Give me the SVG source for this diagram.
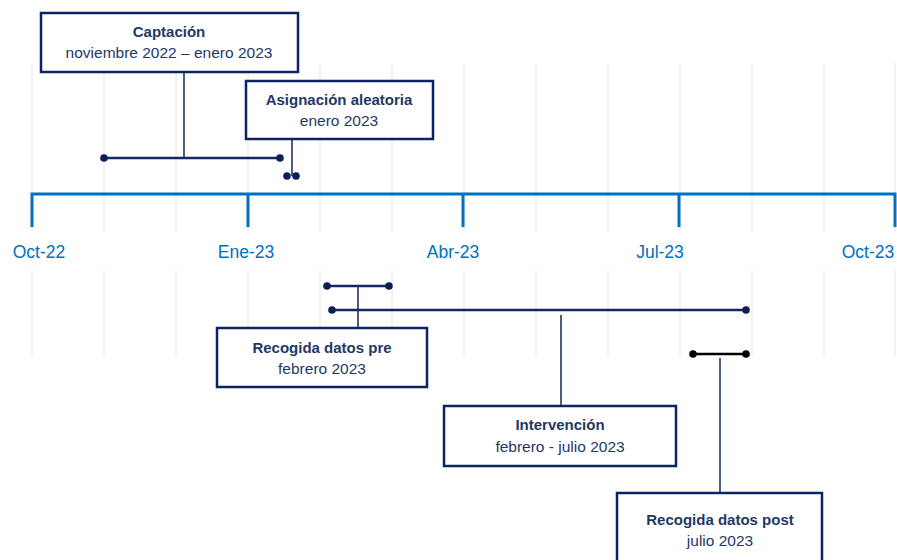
<svg xmlns="http://www.w3.org/2000/svg" width="897" height="560" viewBox="0 0 897 560">
<style>
.grid{stroke:#f2f2f2;stroke-width:2;fill:none}
.axis{stroke:#0070c0;stroke-width:3;fill:none}
.lbl{font-family:"Liberation Sans",Arial,sans-serif;font-size:17.5px;fill:#0070c0;text-anchor:middle}
.box{fill:#fff;stroke:#0c2461;stroke-width:2.5}
.t1{font-family:"Liberation Sans",Arial,sans-serif;font-size:15px;font-weight:bold;fill:#1f3864;text-anchor:middle}
.t2{font-family:"Liberation Sans",Arial,sans-serif;font-size:15.5px;fill:#1f3864;text-anchor:middle}
.bar{stroke:#13295a;stroke-width:2.5;fill:none}
.stem{stroke:#1f3864;stroke-width:1.6;fill:none}
.dot{fill:#0c1f55}
</style>
<rect width="897" height="560" fill="#fff"/>
<g id="grid">
<path class="grid" d="M32 63V232M104 63V232M176 63V232M248 63V232M320 63V232M392 63V232M464 63V232M536 63V232M608 63V232M680 63V232M752 63V232M824 63V232M895 63V232"/>
<path class="grid" d="M32 270V357M104 270V357M176 270V357M248 270V357M320 270V357M392 270V357M464 270V357M536 270V357M608 270V357M680 270V357M752 270V357M824 270V357M895 270V357"/>
</g>
<g id="axis">
<path class="axis" d="M32 227V194H895V227M248 194V227M463 194V227M679 194V227"/>
<text class="lbl" x="39" y="258">Oct-22</text>
<text class="lbl" x="246" y="258">Ene-23</text>
<text class="lbl" x="453" y="258">Abr-23</text>
<text class="lbl" x="660" y="258">Jul-23</text>
<text class="lbl" x="868" y="258">Oct-23</text>
</g>
<g id="connectors">
<path class="stem" d="M184 72V158"/>
<path class="bar" d="M104 158H280"/>
<circle class="dot" cx="104" cy="158" r="3.8"/>
<circle class="dot" cx="280" cy="158" r="3.8"/>
<path class="stem" d="M292 139V176"/>
<circle class="dot" cx="287" cy="176" r="3.8"/>
<circle class="dot" cx="296" cy="176" r="3.8"/>
<path class="bar" d="M327 286H389"/>
<circle class="dot" cx="327" cy="286" r="3.8"/>
<circle class="dot" cx="389" cy="286" r="3.8"/>
<path class="stem" d="M358 286V328"/>
<path class="bar" d="M332 310H746"/>
<circle class="dot" cx="332" cy="310" r="3.8"/>
<circle class="dot" cx="746" cy="310" r="3.8"/>
<path class="stem" d="M561 315V406"/>
<path class="bar" d="M693 354H746" style="stroke:#000"/>
<circle cx="693" cy="354" r="3.8" fill="#000"/>
<circle cx="746" cy="354" r="3.8" fill="#000"/>
<path class="stem" d="M720 358V493"/>
</g>
<g id="captacion">
<rect class="box" x="41" y="13" width="257" height="59"/>
<text class="t1" x="169" y="37">Captación</text>
<text class="t2" x="169" y="58">noviembre 2022 – enero 2023</text>
</g>
<g id="asignacion">
<rect class="box" x="246" y="81" width="187" height="58"/>
<text class="t1" x="339" y="105">Asignación aleatoria</text>
<text class="t2" x="339" y="126">enero 2023</text>
</g>
<g id="recogida-pre">
<rect class="box" x="217" y="328" width="210" height="59"/>
<text class="t1" x="322" y="353">Recogida datos pre</text>
<text class="t2" x="322" y="374">febrero 2023</text>
</g>
<g id="intervencion">
<rect class="box" x="444" y="406" width="232" height="60"/>
<text class="t1" x="560" y="430">Intervención</text>
<text class="t2" x="560" y="452">febrero - julio 2023</text>
</g>
<g id="recogida-post">
<rect class="box" x="617" y="493" width="205" height="80"/>
<text class="t1" x="720" y="525">Recogida datos post</text>
<text class="t2" x="720" y="546">julio 2023</text>
</g>
</svg>
